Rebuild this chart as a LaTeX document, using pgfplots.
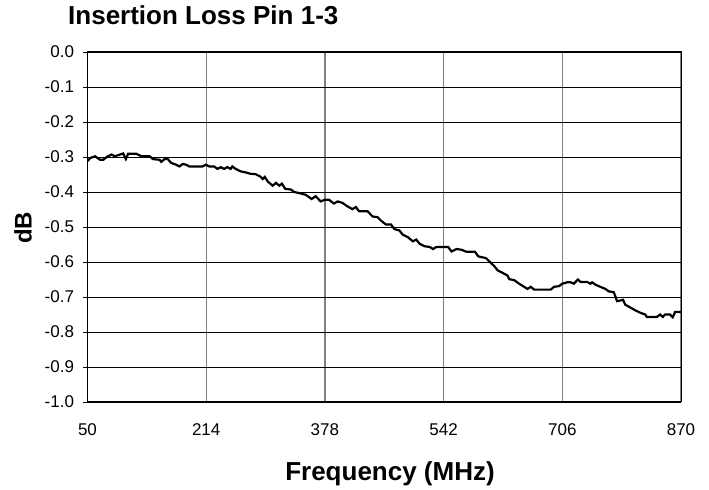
\documentclass[border=0pt]{standalone}
\usepackage{fontspec}
\setmainfont{Liberation Sans}
\usepackage{pgfplots}
\pgfplotsset{compat=1.18}
\begin{document}
\begin{tikzpicture}[x=1bp,y=1bp]
\path[use as bounding box] (0,0) rectangle (709,490);
\begin{axis}[
  at={(87.5bp,88bp)}, anchor=south west,
  width=593.5bp, height=350bp, scale only axis,
  xmin=50, xmax=870, ymin=-1, ymax=0,
  xtick={50,214,378,542,706,870},
  xticklabels={50,214,378,542,706,870},
  ytick={-1,-0.9,-0.8,-0.7,-0.6,-0.5,-0.4,-0.3,-0.2,-0.1,0},
  yticklabels={-1.0,-0.9,-0.8,-0.7,-0.6,-0.5,-0.4,-0.3,-0.2,-0.1,0.0},
  axis line style={black, line width=1bp},
  xmajorgrids, ymajorgrids,
  x grid style={color=gray, line width=1.4bp},
  y grid style={color=black, line width=0.8bp},
  tick align=outside,
  major tick length=5bp,
  ytick pos=left,
  xtick style={draw=none},
  ytick style={black, line width=0.8bp},
  xticklabel style={font=\fontsize{17bp}{20bp}\selectfont, yshift=-13bp},
  yticklabel style={font=\fontsize{17bp}{20bp}\selectfont, xshift=-5bp},
]
\addplot[black, line width=2.2bp, mark=none] coordinates {
(50,-0.312) (53.7,-0.303) (60.5,-0.298) (67.4,-0.308) (71.9,-0.308) (76.5,-0.300)
(83.3,-0.293) (87.9,-0.298) (94.8,-0.293) (99.3,-0.290) (103,-0.306) (106.2,-0.291)
(117.6,-0.291) (124.5,-0.298) (135.9,-0.298) (140.4,-0.306) (149.6,-0.308) (151.9,-0.314)
(156.4,-0.306) (161,-0.306) (165.6,-0.317) (172.4,-0.322) (177,-0.327) (181.6,-0.320)
(186.1,-0.322) (190.7,-0.327) (209,-0.327) (213.5,-0.322) (218.1,-0.327) (225,-0.327)
(229.5,-0.334) (234.1,-0.329) (238.7,-0.334) (243.2,-0.329) (247.8,-0.334) (250.1,-0.327)
(254.6,-0.334) (261.5,-0.341) (268.4,-0.344) (275.2,-0.348) (282.1,-0.349) (288.9,-0.356)
(292,-0.363) (295,-0.357) (299,-0.370) (305.8,-0.382) (310.4,-0.374) (315,-0.382)
(318.6,-0.376) (323.2,-0.391) (331,-0.393) (335.5,-0.400) (342.4,-0.403) (351.5,-0.408)
(359.7,-0.420) (365.2,-0.412) (372.1,-0.427) (378,-0.422) (383.5,-0.422) (390.4,-0.433)
(395.7,-0.427) (402.1,-0.431) (409.1,-0.441) (416,-0.449) (420.7,-0.443) (425.3,-0.455)
(436.9,-0.455) (443.9,-0.470) (450.8,-0.472) (455.5,-0.482) (462.4,-0.493) (469.4,-0.493)
(474,-0.506) (481,-0.510) (485.6,-0.522) (492.6,-0.529) (499.5,-0.541) (504.2,-0.536)
(508.8,-0.548) (515.8,-0.555) (522.7,-0.557) (527.4,-0.563) (532,-0.557) (540.4,-0.557)
(548.3,-0.557) (552.9,-0.570) (559.9,-0.563) (566.8,-0.565) (573.8,-0.571) (585.4,-0.571)
(590,-0.584) (594,-0.586) (600.6,-0.589) (607.5,-0.603) (612.1,-0.612) (616.7,-0.624)
(623.5,-0.631) (630.4,-0.639) (632.7,-0.649) (639.6,-0.652) (646.4,-0.662) (653.3,-0.671)
(657.9,-0.677) (662.5,-0.671) (667.1,-0.679) (690,-0.679) (694.5,-0.671) (701.4,-0.669)
(706,-0.662) (712.9,-0.658) (717.5,-0.658) (722,-0.662) (727.5,-0.650) (731.2,-0.657)
(740.4,-0.657) (744.9,-0.662) (747.2,-0.658) (751.8,-0.665) (758.7,-0.671) (765.6,-0.677)
(770.1,-0.684) (777,-0.686) (779.3,-0.698) (781.6,-0.712) (786.2,-0.710) (789.8,-0.708)
(793,-0.722) (799.9,-0.730) (806.8,-0.738) (813.7,-0.745) (820.5,-0.750) (822.8,-0.757)
(836.6,-0.757) (841.1,-0.750) (844.8,-0.757) (848,-0.750) (854.9,-0.750) (858.5,-0.758)
(861.8,-0.743) (870,-0.743)
};
\end{axis}
\node[anchor=base west, font=\fontsize{26bp}{30bp}\selectfont\bfseries, inner sep=0pt] at (68,465) {Insertion Loss Pin 1-3};
\node[anchor=base, font=\fontsize{26bp}{30bp}\selectfont\bfseries, inner sep=0pt] at (390,9) {Frequency (MHz)};
\node[rotate=90, font=\fontsize{24bp}{28bp}\selectfont\bfseries, inner sep=0pt] at (23,262) {dB};
\end{tikzpicture}
\end{document}
